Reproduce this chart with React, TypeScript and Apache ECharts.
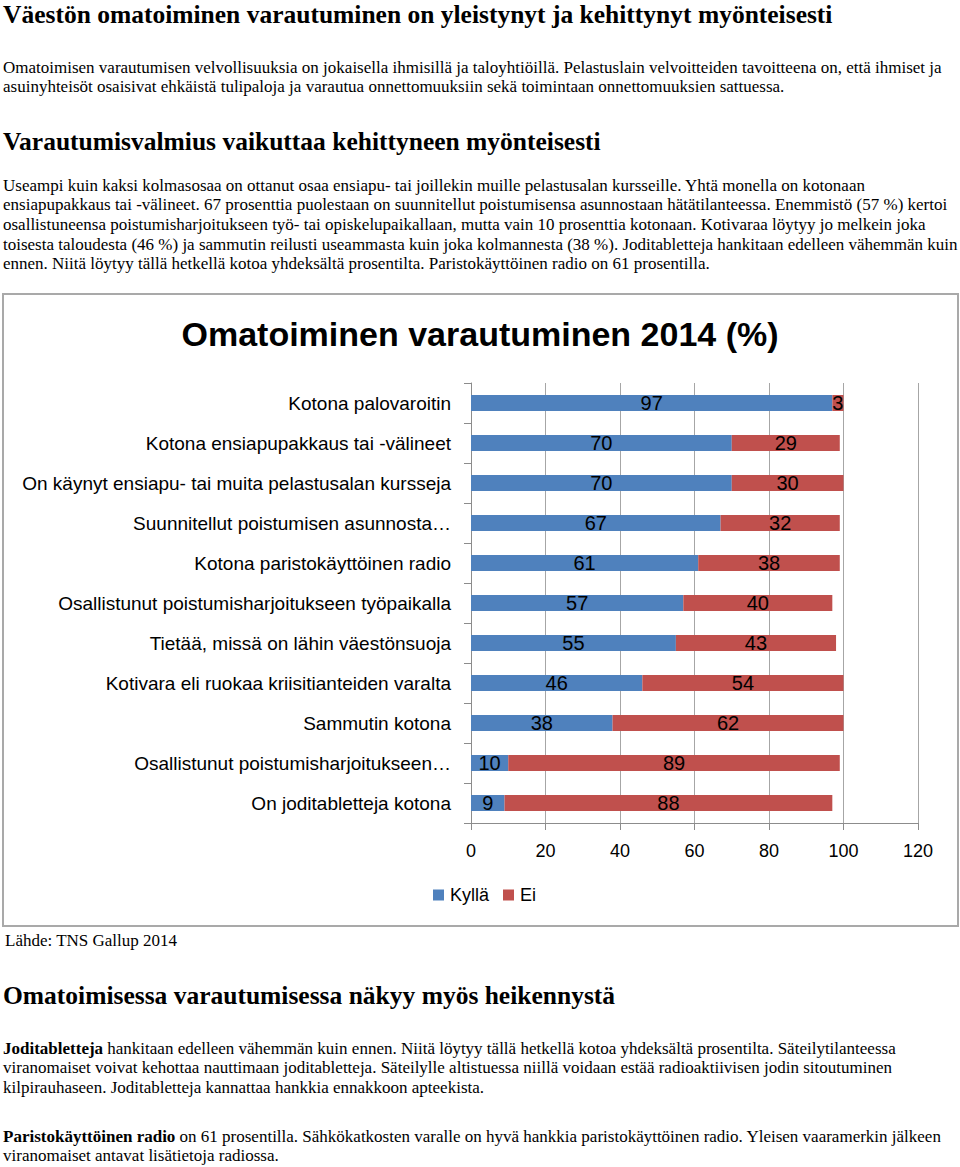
import React, { useEffect, useRef } from "react";
import * as echarts from "echarts";

const categories = [
  "Kotona palovaroitin",
  "Kotona ensiapupakkaus tai -välineet",
  "On käynyt ensiapu- tai muita pelastusalan kursseja",
  "Suunnitellut poistumisen asunnosta…",
  "Kotona paristokäyttöinen radio",
  "Osallistunut poistumisharjoitukseen työpaikalla",
  "Tietää, missä on lähin väestönsuoja",
  "Kotivara eli ruokaa kriisitianteiden varalta",
  "Sammutin kotona",
  "Osallistunut poistumisharjoitukseen…",
  "On joditabletteja kotona",
];
const kyllaValues = [97, 70, 70, 67, 61, 57, 55, 46, 38, 10, 9];
const eiValues = [3, 29, 30, 32, 38, 40, 43, 54, 62, 89, 88];
const seriesNames = ["Kyllä", "Ei"];
const chartTitle = "Omatoiminen varautuminen 2014 (%)";

const heading1 = "Väestön omatoiminen varautuminen on yleistynyt ja kehittynyt myönteisesti";
const para1 = [
  "Omatoimisen varautumisen velvollisuuksia on jokaisella ihmisillä ja taloyhtiöillä. Pelastuslain velvoitteiden tavoitteena on, että ihmiset ja",
  "asuinyhteisöt osaisivat ehkäistä tulipaloja ja varautua onnettomuuksiin sekä toimintaan onnettomuuksien sattuessa.",
];
const heading2 = "Varautumisvalmius vaikuttaa kehittyneen myönteisesti";
const para2 = [
  "Useampi kuin kaksi kolmasosaa on ottanut osaa ensiapu- tai joillekin muille pelastusalan kursseille. Yhtä monella on kotonaan",
  "ensiapupakkaus tai -välineet. 67 prosenttia puolestaan on suunnitellut poistumisensa asunnostaan hätätilanteessa. Enemmistö (57 %) kertoi",
  "osallistuneensa poistumisharjoitukseen työ- tai opiskelupaikallaan, mutta vain 10 prosenttia kotonaan. Kotivaraa löytyy jo melkein joka",
  "toisesta taloudesta (46 %) ja sammutin reilusti useammasta kuin joka kolmannesta (38 %). Joditabletteja hankitaan edelleen vähemmän kuin",
  "ennen. Niitä löytyy tällä hetkellä kotoa yhdeksältä prosentilta. Paristokäyttöinen radio on 61 prosentilla.",
];
const sourceText = "Lähde: TNS Gallup 2014";
const heading3 = "Omatoimisessa varautumisessa näkyy myös heikennystä";
const para3 = [
  "{b|Joditabletteja} hankitaan edelleen vähemmän kuin ennen. Niitä löytyy tällä hetkellä kotoa yhdeksältä prosentilta. Säteilytilanteessa",
  "viranomaiset voivat kehottaa nauttimaan joditabletteja. Säteilylle altistuessa niillä voidaan estää radioaktiivisen jodin sitoutuminen",
  "kilpirauhaseen. Joditabletteja kannattaa hankkia ennakkoon apteekista.",
];
const para4 = [
  "{b|Paristokäyttöinen radio} on 61 prosentilla. Sähkökatkosten varalle on hyvä hankkia paristokäyttöinen radio. Yleisen vaaramerkin jälkeen",
  "viranomaiset antavat lisätietoja radiossa.",
];

const SERIF = '"Liberation Serif", "Times New Roman", serif';
const SANS = '"Liberation Sans", Arial, sans-serif';

function textEl(text: string, y: number, size: number, bold: boolean, x = 3) {
  return {
    type: "text",
    x,
    y,
    silent: true,
    style: {
      text,
      fill: "#000",
      font: `${bold ? "bold " : ""}${size}px ${SERIF}`,
      fontFamily: SERIF,
      fontSize: size,
      fontWeight: bold ? "bold" : "normal",
      textVerticalAlign: "middle",
      verticalAlign: "middle",
      textAlign: "left",
      align: "left",
      rich: {
        b: { fontFamily: SERIF, fontSize: size, fontWeight: "bold", fill: "#000" },
      },
    },
  };
}

export default function App() {
  const ref = useRef<HTMLDivElement>(null);
  useEffect(() => {
    if (!ref.current) return;
    const chart = echarts.init(ref.current, null, { renderer: "svg" });
    const graphics: any[] = [];
    const H = 25.5;
    const P = 17;
    graphics.push(textEl(heading1, 14, H, true));
    para1.forEach((t, i) => graphics.push(textEl(t, 67 + i * 19.7, P, false)));
    graphics.push(textEl(heading2, 141, H, true));
    para2.forEach((t, i) => graphics.push(textEl(t, 185 + i * 19.7, P, false)));
    graphics.push({
      type: "rect",
      silent: true,
      shape: { x: 3, y: 294, width: 955, height: 632 },
      style: { fill: "none", stroke: "#a9a9a9", lineWidth: 2 },
    });
    graphics.push(textEl(sourceText, 940, P, false, 5));
    graphics.push(textEl(heading3, 995, H, true));
    para3.forEach((t, i) => graphics.push(textEl(t, 1048 + i * 19.5, P, false)));
    para4.forEach((t, i) => graphics.push(textEl(t, 1136 + i * 19.5, P, false)));

    chart.setOption({
      animation: false,
      backgroundColor: "#fff",
      title: {
        text: chartTitle,
        left: "center",
        top: 317,
        padding: 0,
        textStyle: { fontFamily: SANS, fontSize: 34, fontWeight: "bold", color: "#000" },
      },
      legend: {
        data: seriesNames,
        left: 433,
        top: 886,
        padding: 0,
        itemWidth: 11,
        itemHeight: 11,
        itemGap: 14,
        icon: "rect",
        textStyle: { fontFamily: SANS, fontSize: 18, color: "#000", padding: [0, 0, 0, 1] },
      },
      grid: { left: 471, right: 42, top: 383, height: 440, containLabel: false },
      xAxis: {
        type: "value",
        min: 0,
        max: 120,
        interval: 20,
        axisLine: { show: true, lineStyle: { color: "#8c8c8c", width: 1 } },
        axisTick: { show: true, length: 7, lineStyle: { color: "#8c8c8c" } },
        splitLine: { show: true, lineStyle: { color: "#a6a6a6", width: 1 } },
        axisLabel: { fontFamily: SANS, fontSize: 18, color: "#000", margin: 19 },
      },
      yAxis: {
        type: "category",
        inverse: true,
        data: categories,
        axisLine: { show: true, lineStyle: { color: "#8c8c8c", width: 1 } },
        axisTick: { show: true, length: 7, lineStyle: { color: "#8c8c8c" } },
        axisLabel: { fontFamily: SANS, fontSize: 19, color: "#000", margin: 20 },
      },
      series: [
        {
          name: seriesNames[0],
          type: "bar",
          stack: "total",
          data: kyllaValues,
          barWidth: 16,
          itemStyle: { color: "#4F81BD" },
          label: { show: true, position: "inside", fontFamily: SANS, fontSize: 20, color: "#000" },
        },
        {
          name: seriesNames[1],
          type: "bar",
          stack: "total",
          data: eiValues,
          barWidth: 16,
          itemStyle: { color: "#C0504D" },
          label: { show: true, position: "inside", fontFamily: SANS, fontSize: 20, color: "#000" },
        },
      ],
      graphic: graphics,
    });
    return () => chart.dispose();
  }, []);
  return (
    <div
      ref={ref}
      style={{ position: "absolute", left: 0, top: 0, width: 960, height: 1167, background: "#fff" }}
    />
  );
}
